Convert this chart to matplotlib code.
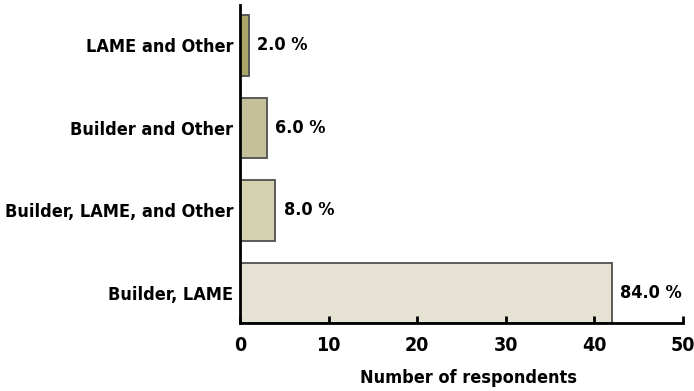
import matplotlib
matplotlib.use("Agg")
import matplotlib.pyplot as plt

categories = ["Builder, LAME", "Builder, LAME, and Other", "Builder and Other", "LAME and Other"]
counts = [42, 4, 3, 1]
colors = ["#e6e3d5", "#d4d1b0", "#c4c19a", "#a9a666"]
xticks = [0, 10, 20, 30, 40, 50]

plt.rcParams["font.family"] = ["DejaVu Sans"]
plt.rcParams["font.weight"] = "bold"
plt.rcParams["font.stretch"] = "condensed"

fig = plt.figure(figsize=(6.94, 3.91), dpi=100)
ax = fig.add_axes([0.3458, 0.1739, 0.6383, 0.8133])

total = sum(counts)
ypos = list(range(len(categories)))
bars = ax.barh(ypos, counts, height=0.73, color=colors, edgecolor="#4f4f4f", linewidth=1.3)
for b, v in zip(bars, counts):
    ax.annotate(f"{v / total * 100:.1f} %", (b.get_width(), b.get_y() + b.get_height() / 2),
                xytext=(6, 0), textcoords="offset points", va="center", ha="left",
                fontsize=13, fontweight="bold", fontstretch="condensed")

ax.set_yticks(ypos)
ax.set_yticklabels(categories, fontsize=13, fontweight="bold", fontstretch="condensed")
ax.set_xticks(xticks)
ax.set_xticklabels([str(t) for t in xticks], fontsize=14, fontweight="bold", fontstretch="condensed")
ax.set_xlim(0, 50)
ax.set_ylim(-0.365, 3.49)
ax.set_xlabel("Number of respondents", fontsize=13, fontweight="bold", fontstretch="condensed")
ax.xaxis.set_label_coords(0.515, -0.145)
ax.xaxis.label.set_va("top")

for s in ["top", "right"]:
    ax.spines[s].set_visible(False)
for s in ["left", "bottom"]:
    ax.spines[s].set_linewidth(2)
ax.tick_params(axis="y", length=0, pad=5)
ax.tick_params(axis="x", direction="in", length=5, width=2, pad=9)

fig.savefig("out.png", dpi=100)
